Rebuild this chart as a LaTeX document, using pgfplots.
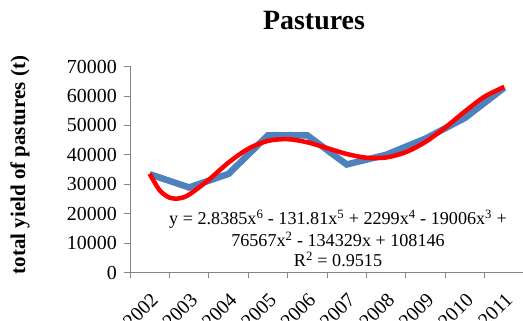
\documentclass[border=0pt]{standalone}
\usepackage{fontspec}
\setmainfont{Liberation Serif}
\usepackage{pgfplots}
\pgfplotsset{compat=1.18}
\definecolor{xlblue}{HTML}{4F81BD}
\definecolor{axgray}{HTML}{868686}
\begin{document}
\begin{tikzpicture}
\begin{axis}[
  scale only axis,
  width=394bp, height=206bp,
  xmin=0.5, xmax=10.5,
  ymin=0, ymax=70000,
  axis lines*=left,
  axis line style={draw=axgray, line width=0.8pt, -},
  tick style={draw=axgray, line width=0.8pt},
  tick align=outside,
  major tick length=6bp,
  ytick={0,10000,...,70000},
  scaled y ticks=false,
  yticklabel style={/pgf/number format/1000 sep={}, font=\fontsize{20}{24}\selectfont, inner sep=0pt, xshift=-7bp},
  /pgf/number format/assume math mode=true,
  xtick={0.5,1.5,...,10.5},
  xticklabels={},
  extra x ticks={1,2,...,10},
  extra x tick labels={2002,2003,2004,2005,2006,2007,2008,2009,2010,2011},
  extra x tick style={
    major tick length=0pt,
    tick style={draw=none},
    xticklabel style={font=\fontsize{20}{24}\selectfont, inner sep=0pt, xshift=5bp, yshift=-24bp, rotate=45, anchor=east},
  },
  title={Pastures},
  title style={font=\fontsize{28}{32}\selectfont\bfseries, at={(rel axis cs:0.5,1)}, anchor=base, yshift=31.5bp, xshift=-13bp},
  ylabel={total yield of pastures (t)},
  ylabel style={font=\fontsize{21}{24}\selectfont\bfseries, at={(axis description cs:-0.279,0.522)}, anchor=center},
  clip=false,
]
\addplot[xlblue, line width=6.5bp] coordinates {
 (1,33400) (2,28900) (3,33500) (4,46600) (5,46600) (6,36700) (7,40000) (8,45500) (9,52500) (10,62800)
};
\addplot[red, line width=4.5bp, smooth] coordinates {
 (1,33548) (1.25,27971) (1.5,25453) (1.75,25177) (2,26456) (2.5,31524) (3,37358) (3.5,42041) (4,44715) (4.5,45303) (5,44246) (5.5,42286) (6,40271) (6.5,38997) (7,39083) (7.5,40875) (8,44380) (8.5,49238) (9,54724) (9.5,59773) (10,63056)
};
\node[anchor=base, font=\fontsize{18.2}{21}\selectfont, inner sep=0pt] at (axis cs:5.78,16141) {y = 2.8385x\textsuperscript{6} - 131.81x\textsuperscript{5} + 2299x\textsuperscript{4} - 19006x\textsuperscript{3} +};
\node[anchor=base, font=\fontsize{18.2}{21}\selectfont, inner sep=0pt] at (axis cs:5.78,8665) {76567x\textsuperscript{2} - 134329x + 108146};
\node[anchor=base, font=\fontsize{18.2}{21}\selectfont, inner sep=0pt] at (axis cs:5.78,1869) {R\textsuperscript{2} = 0.9515};
\coordinate (ll) at (rel axis cs:0,0);
\coordinate (ur) at (rel axis cs:1,1);
\end{axis}
\pgfresetboundingbox
\path ([shift={(-130bp,-48.5bp)}]ll) rectangle ([shift={(-1bp,66.5bp)}]ur);
\end{tikzpicture}
\end{document}
